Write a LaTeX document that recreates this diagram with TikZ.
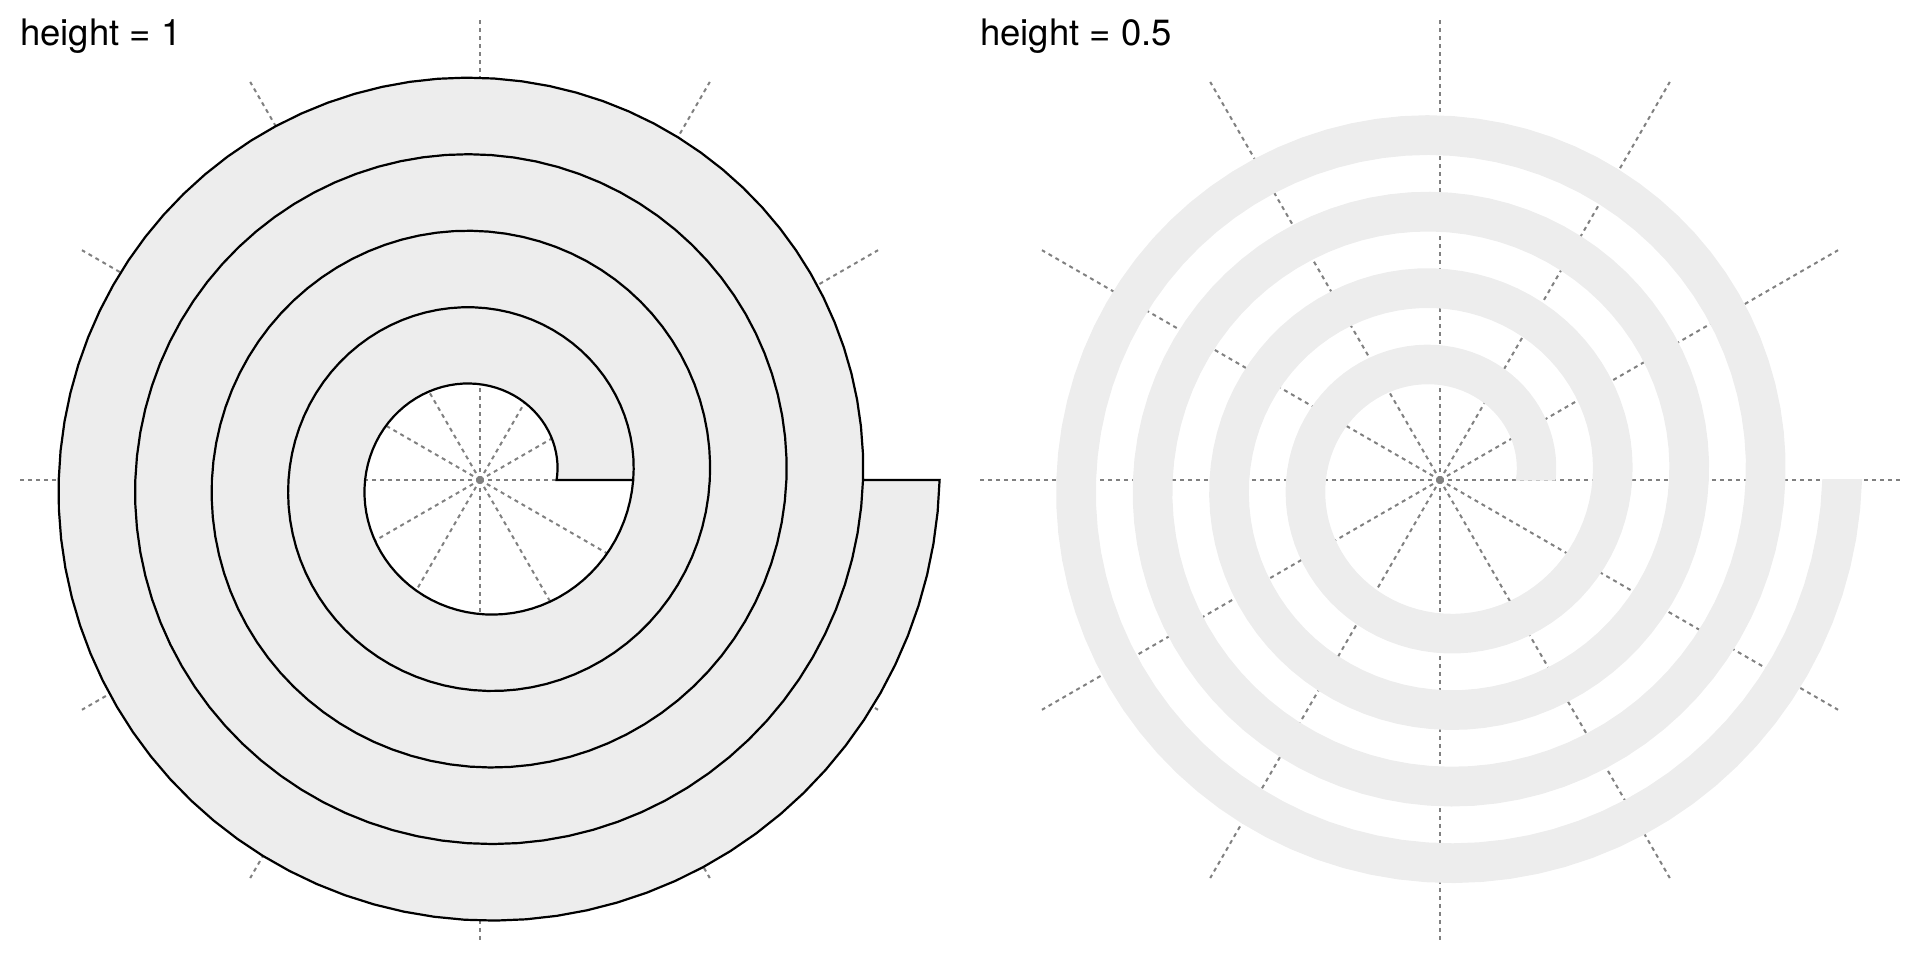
\documentclass[tikz,border=0pt]{standalone}
\usepackage{fontspec}
\setmainfont{TeX Gyre Heros}
\usetikzlibrary{positioning}
\definecolor{bandgrey}{RGB}{237,237,237}
\definecolor{gridgrey}{RGB}{128,128,128}
\newcommand{\pitch}{76.6}

\begin{document}
\begin{tikzpicture}[x=1pt, y=1pt,
    spoke/.style={gridgrey, line width=2pt, dash pattern=on 4pt off 4pt},
    band/.style={fill=bandgrey},
    title/.style={anchor=base west, inner sep=0pt, font=\fontsize{36.5}{44}\selectfont}]
  \useasboundingbox (0,0) rectangle (1920,960);
  \coordinate (cfull) at (480,480);
  \coordinate (chalf) at (1440,480);
  % height = 1, outlined
  \begin{scope}[shift={(cfull)}]
    \foreach \a in {0,30,...,330}
      \draw[spoke] (0,0) -- (\a:{6*\pitch});
    \draw[band, draw=black, line width=2.2pt]
      plot[domain=0:1440, samples=361] (\x:{\pitch*(1+\x/360)})
      -- plot[domain=1440:0, samples=361] (\x:{\pitch*(2+\x/360)}) -- cycle;
  \end{scope}
  % height = 0.5, fill only
  \begin{scope}[shift={(chalf)}]
    \foreach \a in {0,30,...,330}
      \draw[spoke] (0,0) -- (\a:{6*\pitch});
    \draw[band, draw=bandgrey, line width=1.5pt]
      plot[domain=0:1440, samples=361] (\x:{\pitch*(1+\x/360)})
      -- plot[domain=1440:0, samples=361] (\x:{\pitch*(1.5+\x/360)}) -- cycle;
  \end{scope}
  \node[title] (hfull) at (20,914.3) {height = 1};
  \node[title] (hhalf) at (980,914.3) {height = 0.5};
\end{tikzpicture}
\end{document}
